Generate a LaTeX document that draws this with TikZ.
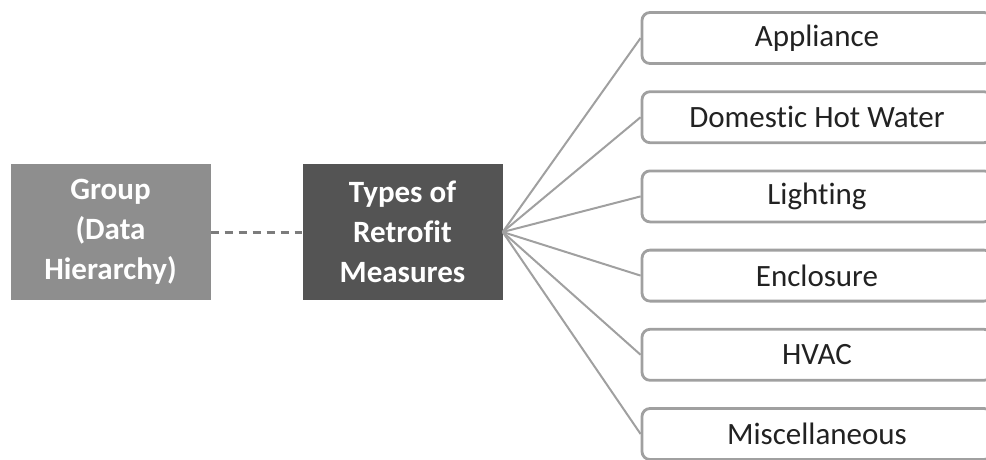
\documentclass[tikz,border=0pt]{standalone}
\usepackage{fontspec}
\setmainfont{Carlito}[RawFeature={-liga;-clig}]
\usetikzlibrary{positioning}
\definecolor{grpgray}{HTML}{8E8E8E}
\definecolor{typegray}{HTML}{545454}
\definecolor{linegray}{HTML}{A0A0A0}
\definecolor{dashgray}{HTML}{7C7C7C}
\definecolor{textgray}{HTML}{222222}
\begin{document}
\begin{tikzpicture}[x=1pt,y=1pt, every node/.style={font=\fontsize{31}{40}\selectfont}]
\useasboundingbox (0,0) rectangle (986,-459);
\clip (0,0) rectangle (986,-459);
\tikzset{
  headbox/.style={minimum width=200pt, minimum height=136pt, inner sep=0pt, align=center, text=white, font=\fontsize{31}{40}\selectfont\bfseries},
  measbox/.style={draw=linegray, line width=2.8pt, rounded corners=8pt, fill=white, minimum width=350pt, minimum height=51pt, inner sep=0pt, text=textgray},
  fanline/.style={draw=linegray, line width=2pt}
}
% left part
\node[headbox, fill=grpgray] (group) at (110.5,-232) {Group\\(Data\\Hierarchy)};
\node[headbox, fill=typegray] (types) at (402.5,-232) {Types of\\Retrofit\\Measures};
\draw[dashgray, line width=3pt, dash pattern=on 8pt off 6pt] (group.east) -- (types.west);
% the six measure boxes
\foreach \lbl [count=\i] in {Appliance, Domestic Hot Water, Lighting, Enclosure, HVAC, Miscellaneous}{
  \node[measbox] (meas\i) at (817,{-38-79.2*(\i-1)}) {\lbl};
  \draw[fanline] (types.east) -- (meas\i.west);
}
\end{tikzpicture}
\end{document}
